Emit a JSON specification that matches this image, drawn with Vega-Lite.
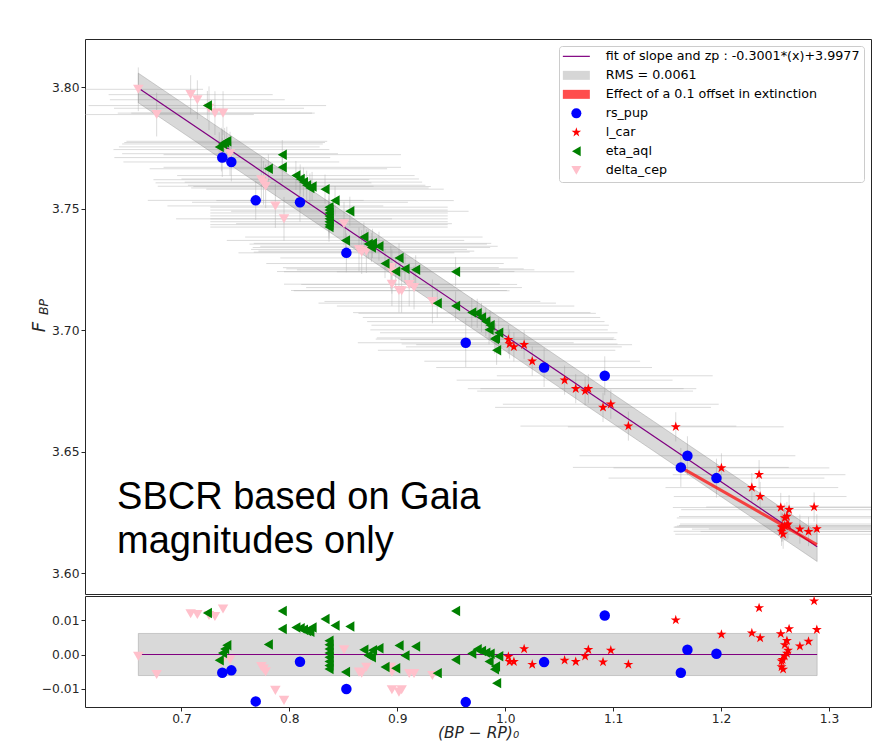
{
  "$schema": "https://vega.github.io/schema/vega-lite/v6.json",
  "background": "white",
  "padding": {"left": 30, "top": 38, "right": 0, "bottom": 0},
  "spacing": 0,
  "config": {
    "view": {"stroke": "#262626", "strokeWidth": 1},
    "font": "DejaVu Sans",
    "axis": {"grid": false, "domain": false, "tickColor": "#262626", "tickSize": 4, "labelFont": "DejaVu Sans", "labelFontSize": 12.3, "labelColor": "#262626", "labelPadding": 2, "titleFont": "DejaVu Sans", "titleFontWeight": "normal", "titleColor": "#262626"},
    "axisX": {"labelPadding": 1},
    "legend": {"labelFont": "DejaVu Sans", "labelFontSize": 12.7, "labelColor": "#000000", "labelLimit": 400, "symbolSize": 100, "symbolStrokeWidth": 0, "symbolOffset": 7, "labelOffset": 23, "rowPadding": 5, "padding": 4, "fillColor": "rgba(255,255,255,0.8)", "strokeColor": "#cccccc", "cornerRadius": 3, "offset": 7}
  },
  "resolve": {"legend": {"color": "independent", "shape": "independent"}},
  "datasets": {
    "pts": [
      {"s":"delta_cep","x":0.660,"y":3.7991,"r":-0.0005,"xe":0.06,"ye":0.009},
      {"s":"delta_cep","x":0.677,"y":3.7887,"r":-0.0058,"xe":0.09,"ye":0.009},
      {"s":"delta_cep","x":0.7085,"y":3.7969,"r":0.0118,"xe":0.076,"ye":0.008},
      {"s":"delta_cep","x":0.7147,"y":3.7948,"r":0.0116,"xe":0.081,"ye":0.008},
      {"s":"delta_cep","x":0.7255,"y":3.7913,"r":0.0113,"xe":0.088,"ye":0.009},
      {"s":"delta_cep","x":0.731,"y":3.7893,"r":0.0110,"xe":0.09,"ye":0.009},
      {"s":"delta_cep","x":0.7385,"y":3.7893,"r":0.0132,"xe":0.085,"ye":0.009},
      {"s":"delta_cep","x":0.737,"y":3.7743,"r":-0.0022,"xe":0.1,"ye":0.009},
      {"s":"delta_cep","x":0.745,"y":3.7726,"r":-0.0015,"xe":0.1,"ye":0.009},
      {"s":"delta_cep","x":0.774,"y":3.7619,"r":-0.0035,"xe":0.1,"ye":0.009},
      {"s":"delta_cep","x":0.776,"y":3.7606,"r":-0.0042,"xe":0.1,"ye":0.009},
      {"s":"delta_cep","x":0.778,"y":3.7592,"r":-0.0050,"xe":0.1,"ye":0.009},
      {"s":"delta_cep","x":0.787,"y":3.7511,"r":-0.0104,"xe":0.1,"ye":0.009},
      {"s":"delta_cep","x":0.795,"y":3.7458,"r":-0.0133,"xe":0.1,"ye":0.009},
      {"s":"delta_cep","x":0.8506,"y":3.7438,"r":0.0014,"xe":0.1,"ye":0.009},
      {"s":"delta_cep","x":0.8645,"y":3.7332,"r":-0.0051,"xe":0.1,"ye":0.009},
      {"s":"delta_cep","x":0.867,"y":3.7321,"r":-0.0054,"xe":0.1,"ye":0.009},
      {"s":"delta_cep","x":0.8713,"y":3.7325,"r":-0.0037,"xe":0.1,"ye":0.009},
      {"s":"delta_cep","x":0.894,"y":3.7257,"r":-0.0037,"xe":0.1,"ye":0.009},
      {"s":"delta_cep","x":0.895,"y":3.7240,"r":-0.0051,"xe":0.1,"ye":0.009},
      {"s":"delta_cep","x":0.895,"y":3.7189,"r":-0.0102,"xe":0.1,"ye":0.009},
      {"s":"delta_cep","x":0.9015,"y":3.7163,"r":-0.0109,"xe":0.1,"ye":0.009},
      {"s":"delta_cep","x":0.904,"y":3.7162,"r":-0.0102,"xe":0.1,"ye":0.009},
      {"s":"delta_cep","x":0.911,"y":3.7188,"r":-0.0055,"xe":0.1,"ye":0.009},
      {"s":"delta_cep","x":0.9155,"y":3.7175,"r":-0.0055,"xe":0.1,"ye":0.009},
      {"s":"delta_cep","x":0.9325,"y":3.7118,"r":-0.0061,"xe":0.1,"ye":0.009},
      {"s":"eta_aql","x":0.724,"y":3.7924,"r":0.0120,"xe":0.11,"ye":0.006},
      {"s":"eta_aql","x":0.7934,"y":3.7722,"r":0.0126,"xe":0.11,"ye":0.006},
      {"s":"eta_aql","x":0.7934,"y":3.7670,"r":0.0074,"xe":0.11,"ye":0.006},
      {"s":"eta_aql","x":0.806,"y":3.7636,"r":0.0078,"xe":0.11,"ye":0.006},
      {"s":"eta_aql","x":0.810,"y":3.7622,"r":0.0076,"xe":0.11,"ye":0.006},
      {"s":"eta_aql","x":0.813,"y":3.7609,"r":0.0072,"xe":0.11,"ye":0.006},
      {"s":"eta_aql","x":0.816,"y":3.7596,"r":0.0068,"xe":0.11,"ye":0.006},
      {"s":"eta_aql","x":0.819,"y":3.7585,"r":0.0066,"xe":0.11,"ye":0.006},
      {"s":"eta_aql","x":0.821,"y":3.7591,"r":0.0078,"xe":0.11,"ye":0.006},
      {"s":"eta_aql","x":0.833,"y":3.7580,"r":0.0103,"xe":0.11,"ye":0.006},
      {"s":"eta_aql","x":0.8423,"y":3.7533,"r":0.0084,"xe":0.11,"ye":0.006},
      {"s":"eta_aql","x":0.856,"y":3.7489,"r":0.0081,"xe":0.11,"ye":0.006},
      {"s":"eta_aql","x":0.7805,"y":3.7664,"r":0.0029,"xe":0.11,"ye":0.006},
      {"s":"eta_aql","x":0.742,"y":3.7777,"r":0.0027,"xe":0.093,"ye":0.006},
      {"s":"eta_aql","x":0.740,"y":3.7772,"r":0.0016,"xe":0.093,"ye":0.006},
      {"s":"eta_aql","x":0.738,"y":3.7766,"r":0.0004,"xe":0.093,"ye":0.006},
      {"s":"eta_aql","x":0.735,"y":3.7754,"r":-0.0017,"xe":0.093,"ye":0.006},
      {"s":"eta_aql","x":0.8367,"y":3.7506,"r":0.0040,"xe":0.11,"ye":0.006},
      {"s":"eta_aql","x":0.8367,"y":3.7494,"r":0.0028,"xe":0.11,"ye":0.006},
      {"s":"eta_aql","x":0.8367,"y":3.7482,"r":0.0016,"xe":0.11,"ye":0.006},
      {"s":"eta_aql","x":0.8367,"y":3.7470,"r":0.0004,"xe":0.11,"ye":0.006},
      {"s":"eta_aql","x":0.8367,"y":3.7458,"r":-0.0008,"xe":0.11,"ye":0.006},
      {"s":"eta_aql","x":0.8367,"y":3.7446,"r":-0.0020,"xe":0.11,"ye":0.006},
      {"s":"eta_aql","x":0.8367,"y":3.7434,"r":-0.0032,"xe":0.11,"ye":0.006},
      {"s":"eta_aql","x":0.8367,"y":3.7424,"r":-0.0042,"xe":0.11,"ye":0.006},
      {"s":"eta_aql","x":0.852,"y":3.7369,"r":-0.0051,"xe":0.11,"ye":0.006},
      {"s":"eta_aql","x":0.869,"y":3.7383,"r":0.0014,"xe":0.11,"ye":0.006},
      {"s":"eta_aql","x":0.873,"y":3.7354,"r":-0.0003,"xe":0.11,"ye":0.006},
      {"s":"eta_aql","x":0.876,"y":3.7340,"r":-0.0008,"xe":0.11,"ye":0.006},
      {"s":"eta_aql","x":0.877,"y":3.7357,"r":0.0012,"xe":0.11,"ye":0.006},
      {"s":"eta_aql","x":0.883,"y":3.7345,"r":0.0018,"xe":0.11,"ye":0.006},
      {"s":"eta_aql","x":0.8886,"y":3.7274,"r":-0.0036,"xe":0.11,"ye":0.006},
      {"s":"eta_aql","x":0.8985,"y":3.7241,"r":-0.0040,"xe":0.11,"ye":0.006},
      {"s":"eta_aql","x":0.9016,"y":3.7297,"r":0.0026,"xe":0.11,"ye":0.006},
      {"s":"eta_aql","x":0.9071,"y":3.7252,"r":-0.0003,"xe":0.11,"ye":0.006},
      {"s":"eta_aql","x":0.917,"y":3.7248,"r":0.0023,"xe":0.11,"ye":0.006},
      {"s":"eta_aql","x":0.937,"y":3.7111,"r":-0.0054,"xe":0.11,"ye":0.006},
      {"s":"eta_aql","x":0.954,"y":3.7240,"r":0.0126,"xe":0.11,"ye":0.006},
      {"s":"eta_aql","x":0.954,"y":3.7099,"r":-0.0015,"xe":0.11,"ye":0.006},
      {"s":"eta_aql","x":0.969,"y":3.7072,"r":0.0003,"xe":0.11,"ye":0.006},
      {"s":"eta_aql","x":0.974,"y":3.7069,"r":0.0015,"xe":0.11,"ye":0.006},
      {"s":"eta_aql","x":0.978,"y":3.7052,"r":0.0010,"xe":0.11,"ye":0.006},
      {"s":"eta_aql","x":0.982,"y":3.7035,"r":0.0005,"xe":0.11,"ye":0.006},
      {"s":"eta_aql","x":0.986,"y":3.7020,"r":0.0002,"xe":0.11,"ye":0.006},
      {"s":"eta_aql","x":0.990,"y":3.6963,"r":-0.0043,"xe":0.11,"ye":0.006},
      {"s":"eta_aql","x":0.991,"y":3.6968,"r":-0.0035,"xe":0.11,"ye":0.006},
      {"s":"eta_aql","x":0.992,"y":3.6917,"r":-0.0083,"xe":0.11,"ye":0.006},
      {"s":"eta_aql","x":0.994,"y":3.6989,"r":-0.0005,"xe":0.11,"ye":0.006},
      {"s":"eta_aql","x":0.985,"y":3.7001,"r":-0.0020,"xe":0.11,"ye":0.006},
      {"s":"l_car","x":1.0029,"y":3.6961,"r":-0.0006,"xe":0.1,"ye":0.006},
      {"s":"l_car","x":1.004,"y":3.6943,"r":-0.0021,"xe":0.1,"ye":0.006},
      {"s":"l_car","x":1.008,"y":3.6931,"r":-0.0021,"xe":0.1,"ye":0.006},
      {"s":"l_car","x":1.0175,"y":3.6940,"r":0.0016,"xe":0.1,"ye":0.006},
      {"s":"l_car","x":1.025,"y":3.6872,"r":-0.0029,"xe":0.1,"ye":0.006},
      {"s":"l_car","x":1.055,"y":3.6794,"r":-0.0017,"xe":0.1,"ye":0.006},
      {"s":"l_car","x":1.0653,"y":3.6759,"r":-0.0021,"xe":0.1,"ye":0.006},
      {"s":"l_car","x":1.074,"y":3.6749,"r":-0.0005,"xe":0.1,"ye":0.006},
      {"s":"l_car","x":1.077,"y":3.6759,"r":0.0014,"xe":0.1,"ye":0.006},
      {"s":"l_car","x":1.0906,"y":3.6682,"r":-0.0022,"xe":0.1,"ye":0.006},
      {"s":"l_car","x":1.0978,"y":3.6695,"r":0.0012,"xe":0.1,"ye":0.006},
      {"s":"l_car","x":1.1141,"y":3.6605,"r":-0.0029,"xe":0.1,"ye":0.006},
      {"s":"l_car","x":1.158,"y":3.6602,"r":0.0100,"xe":0.1,"ye":0.006},
      {"s":"l_car","x":1.2003,"y":3.6433,"r":0.0058,"xe":0.1,"ye":0.006},
      {"s":"l_car","x":1.2352,"y":3.6405,"r":0.0135,"xe":0.08,"ye":0.006},
      {"s":"l_car","x":1.2285,"y":3.6352,"r":0.0062,"xe":0.08,"ye":0.006},
      {"s":"l_car","x":1.2362,"y":3.6315,"r":0.0048,"xe":0.08,"ye":0.006},
      {"s":"l_car","x":1.2553,"y":3.6270,"r":0.0060,"xe":0.1,"ye":0.006},
      {"s":"l_car","x":1.2630,"y":3.6261,"r":0.0074,"xe":0.1,"ye":0.006},
      {"s":"l_car","x":1.261,"y":3.6233,"r":0.0040,"xe":0.1,"ye":0.006},
      {"s":"l_car","x":1.259,"y":3.6227,"r":0.0028,"xe":0.1,"ye":0.006},
      {"s":"l_car","x":1.262,"y":3.6202,"r":0.0012,"xe":0.1,"ye":0.006},
      {"s":"l_car","x":1.261,"y":3.6196,"r":0.0003,"xe":0.1,"ye":0.006},
      {"s":"l_car","x":1.259,"y":3.6194,"r":-0.0005,"xe":0.1,"ye":0.006},
      {"s":"l_car","x":1.257,"y":3.6190,"r":-0.0015,"xe":0.1,"ye":0.006},
      {"s":"l_car","x":1.256,"y":3.6189,"r":-0.0019,"xe":0.1,"ye":0.006},
      {"s":"l_car","x":1.2575,"y":3.6160,"r":-0.0043,"xe":0.1,"ye":0.006},
      {"s":"l_car","x":1.256,"y":3.6172,"r":-0.0036,"xe":0.1,"ye":0.006},
      {"s":"l_car","x":1.273,"y":3.6181,"r":0.0024,"xe":0.1,"ye":0.006},
      {"s":"l_car","x":1.281,"y":3.6171,"r":0.0038,"xe":0.1,"ye":0.006},
      {"s":"l_car","x":1.2862,"y":3.6272,"r":0.0155,"xe":0.1,"ye":0.006},
      {"s":"l_car","x":1.2887,"y":3.6182,"r":0.0072,"xe":0.1,"ye":0.006},
      {"s":"rs_pup","x":0.7378,"y":3.7710,"r":-0.0053,"xe":0.1,"ye":0.008},
      {"s":"rs_pup","x":0.7462,"y":3.7692,"r":-0.0046,"xe":0.1,"ye":0.008},
      {"s":"rs_pup","x":0.7688,"y":3.7534,"r":-0.0136,"xe":0.1,"ye":0.008},
      {"s":"rs_pup","x":0.8098,"y":3.7526,"r":-0.0021,"xe":0.1,"ye":0.008},
      {"s":"rs_pup","x":0.8528,"y":3.7318,"r":-0.0100,"xe":0.1,"ye":0.008},
      {"s":"rs_pup","x":0.9634,"y":3.6948,"r":-0.0138,"xe":0.1,"ye":0.01},
      {"s":"rs_pup","x":1.036,"y":3.6846,"r":-0.0022,"xe":0.1,"ye":0.008},
      {"s":"rs_pup","x":1.0922,"y":3.6812,"r":0.0113,"xe":0.1,"ye":0.008},
      {"s":"rs_pup","x":1.1688,"y":3.6483,"r":0.0014,"xe":0.1,"ye":0.008},
      {"s":"rs_pup","x":1.1627,"y":3.6435,"r":-0.0053,"xe":0.1,"ye":0.008},
      {"s":"rs_pup","x":1.1957,"y":3.6391,"r":0.0002,"xe":0.1,"ye":0.008}
    ],
    "band": [
      {"x": 0.66, "f": 3.79964, "lo": 3.79354, "hi": 3.80574},
      {"x": 1.289, "f": 3.61087, "lo": 3.60477, "hi": 3.61697}
    ],
    "ext": [
      {"x": 1.1627, "y": 3.6435},
      {"x": 1.2887, "y": 3.6117}
    ],
    "zero": [
      {"x": 0.66, "r": 0},
      {"x": 1.289, "r": 0}
    ]
  },
  "vconcat": [
    {
      "width": 786,
      "height": 555,
      "layer": [
        {
          "data": {"name": "pts"},
          "mark": {"type": "errorbar", "clip": true, "color": "#b0b0b0", "opacity": 0.45},
          "encoding": {
            "x": {"field": "x", "type": "quantitative", "scale": {"domain": [0.6106, 1.3389], "nice": false, "zero": false}, "axis": null},
            "xError": {"field": "xe"},
            "y": {"field": "y", "type": "quantitative", "scale": {"domain": [3.5914, 3.8198], "nice": false, "zero": false},
                  "axis": {"values": [3.6, 3.65, 3.7, 3.75, 3.8], "format": ".2f", "title": null}}
          }
        },
        {
          "data": {"name": "pts"},
          "mark": {"type": "errorbar", "clip": true, "color": "#b0b0b0", "opacity": 0.45},
          "encoding": {
            "x": {"field": "x", "type": "quantitative", "axis": null},
            "y": {"field": "y", "type": "quantitative", "axis": {"values": [3.6, 3.65, 3.7, 3.75, 3.8], "format": ".2f", "title": null}},
            "yError": {"field": "ye"}
          }
        },
        {
          "data": {"name": "band"},
          "mark": {"type": "area", "fill": "#808080", "fillOpacity": 0.3, "stroke": "#808080", "strokeOpacity": 0.35, "strokeWidth": 1},
          "encoding": {
            "x": {"field": "x", "type": "quantitative", "axis": null},
            "y": {"field": "lo", "type": "quantitative", "axis": {"values": [3.6, 3.65, 3.7, 3.75, 3.8], "format": ".2f", "title": null}},
            "y2": {"field": "hi"}
          }
        },
        {
          "data": {"name": "band"},
          "mark": {"type": "line", "color": "#800080", "stroke": "#800080", "strokeWidth": 1.2},
          "encoding": {
            "x": {"field": "x", "type": "quantitative", "axis": null},
            "y": {"field": "f", "type": "quantitative", "axis": {"values": [3.6, 3.65, 3.7, 3.75, 3.8], "format": ".2f", "title": null}}
          }
        },
        {
          "data": {"name": "ext"},
          "mark": {"type": "line", "stroke": "#ff0000", "strokeOpacity": 0.7, "strokeWidth": 3},
          "encoding": {
            "x": {"field": "x", "type": "quantitative", "axis": null},
            "y": {"field": "y", "type": "quantitative", "axis": {"values": [3.6, 3.65, 3.7, 3.75, 3.8], "format": ".2f", "title": null}}
          }
        },
        {
          "data": {"name": "pts"},
          "mark": {"type": "point", "filled": true, "opacity": 1, "size": 110, "strokeWidth": 0},
          "encoding": {
            "x": {"field": "x", "type": "quantitative", "axis": null},
            "y": {"field": "y", "type": "quantitative", "axis": {"values": [3.6, 3.65, 3.7, 3.75, 3.8], "format": ".2f", "title": null}},
            "color": {
              "field": "s", "type": "nominal",
              "scale": {
                "domain": ["fit of slope and zp : -0.3001*(x)+3.9977", "RMS = 0.0061", "Effect of a 0.1 offset in extinction", "rs_pup", "l_car", "eta_aql", "delta_cep"],
                "range": ["#800080", "#d6d6d6", "#ff4d4d", "#0000ff", "#ff0000", "#008000", "#ffc0cb"]
              },
              "legend": {"title": null, "orient": "top-right"}
            },
            "shape": {
              "field": "s", "type": "nominal",
              "scale": {
                "domain": ["fit of slope and zp : -0.3001*(x)+3.9977", "RMS = 0.0061", "Effect of a 0.1 offset in extinction", "rs_pup", "l_car", "eta_aql", "delta_cep"],
                "range": ["M-2.7,-0.12H2.7V0.12H-2.7Z", "M-2.7,-0.9H2.7V0.9H-2.7Z", "M-2.7,-0.9H2.7V0.9H-2.7Z", "circle", "M0,-1L0.2245,-0.309L0.9511,-0.309L0.3633,0.118L0.5878,0.809L0,0.382L-0.5878,0.809L-0.3633,0.118L-0.9511,-0.309L-0.2245,-0.309Z", "triangle-left", "triangle-down"]
              },
              "legend": {"title": null, "orient": "top-right"}
            }
          }
        },
        {
          "data": {"values": [{}]},
          "mark": {"type": "text", "align": "left", "baseline": "alphabetic", "font": "Liberation Sans", "fontSize": 38, "lineHeight": 44, "lineBreak": "\n", "color": "#000000"},
          "encoding": {
            "x": {"datum": 0.6403, "type": "quantitative", "axis": null},
            "y": {"datum": 3.6263, "type": "quantitative", "axis": {"values": [3.6, 3.65, 3.7, 3.75, 3.8], "format": ".2f", "title": null}},
            "text": {"value": "SBCR based on Gaia\nmagnitudes only"}
          }
        },
        {
          "data": {"values": [{}]},
          "mark": {"type": "text", "align": "center", "baseline": "middle", "angle": 270, "font": "DejaVu Sans", "fontStyle": "italic", "fontSize": 18, "color": "#262626"},
          "encoding": {
            "x": {"datum": 0.5689, "type": "quantitative", "axis": null},
            "y": {"datum": 3.7012, "type": "quantitative", "axis": {"values": [3.6, 3.65, 3.7, 3.75, 3.8], "format": ".2f", "title": null}},
            "text": {"value": "F"}
          }
        },
        {
          "data": {"values": [{}]},
          "mark": {"type": "text", "align": "center", "baseline": "middle", "angle": 270, "font": "DejaVu Sans", "fontStyle": "italic", "fontSize": 12.5, "color": "#262626"},
          "encoding": {
            "x": {"datum": 0.5730, "type": "quantitative", "axis": null},
            "y": {"datum": 3.7095, "type": "quantitative", "axis": {"values": [3.6, 3.65, 3.7, 3.75, 3.8], "format": ".2f", "title": null}},
            "text": {"value": "BP"}
          }
        }
      ]
    },
    {
      "width": 786,
      "height": 111,
      "layer": [
        {
          "data": {"values": [{}]},
          "mark": {"type": "rect", "fill": "#808080", "fillOpacity": 0.3, "stroke": "#808080", "strokeOpacity": 0.35, "strokeWidth": 1},
          "encoding": {
            "x": {"datum": 0.66, "type": "quantitative", "scale": {"domain": [0.6106, 1.3389], "nice": false, "zero": false},
                  "axis": {"values": [0.7, 0.8, 0.9, 1.0, 1.1, 1.2, 1.3], "format": ".1f", "title": "(BP − RP)₀", "titleFontStyle": "italic", "titleFontSize": 15.5, "titlePadding": 1}},
            "x2": {"datum": 1.289},
            "y": {"datum": -0.0061, "type": "quantitative", "scale": {"domain": [-0.01522, 0.01696], "nice": false, "zero": false},
                  "axis": {"values": [-0.01, 0, 0.01], "format": ".2f", "title": null}},
            "y2": {"datum": 0.0061}
          }
        },
        {
          "data": {"name": "zero"},
          "mark": {"type": "line", "color": "#800080", "stroke": "#800080", "strokeWidth": 1.2},
          "encoding": {
            "x": {"field": "x", "type": "quantitative",
                  "axis": {"values": [0.7, 0.8, 0.9, 1.0, 1.1, 1.2, 1.3], "format": ".1f", "title": "(BP − RP)₀", "titleFontStyle": "italic", "titleFontSize": 15.5, "titlePadding": 1}},
            "y": {"field": "r", "type": "quantitative", "axis": {"values": [-0.01, 0, 0.01], "format": ".2f", "title": null}}
          }
        },
        {
          "data": {"name": "pts"},
          "mark": {"type": "point", "filled": true, "opacity": 1, "size": 110, "strokeWidth": 0},
          "encoding": {
            "x": {"field": "x", "type": "quantitative",
                  "axis": {"values": [0.7, 0.8, 0.9, 1.0, 1.1, 1.2, 1.3], "format": ".1f", "title": "(BP − RP)₀", "titleFontStyle": "italic", "titleFontSize": 15.5, "titlePadding": 1}},
            "y": {"field": "r", "type": "quantitative", "axis": {"values": [-0.01, 0, 0.01], "format": ".2f", "title": null}},
            "color": {"field": "s", "type": "nominal", "legend": null},
            "shape": {"field": "s", "type": "nominal", "legend": null}
          }
        }
      ]
    }
  ]
}
